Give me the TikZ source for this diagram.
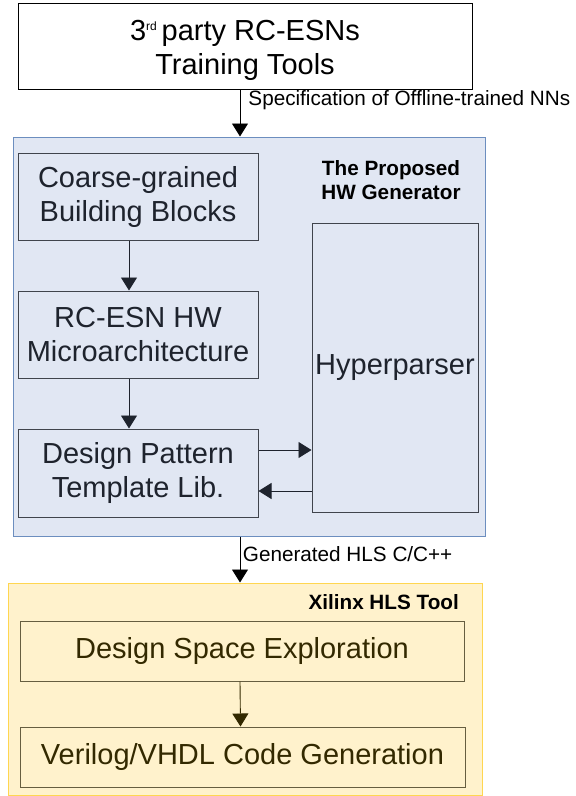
\documentclass[tikz,border=0pt]{standalone}
\usepackage{fontspec}
\setmainfont{Liberation Sans}
\usetikzlibrary{arrows.meta}
\definecolor{hwfill}{RGB}{225,231,243}
\definecolor{hwline}{RGB}{108,142,191}
\definecolor{hwdark}{RGB}{30,35,45}
\definecolor{hlsfill}{RGB}{255,242,204}
\definecolor{hlsline}{RGB}{255,214,80}
\definecolor{hlsdark}{RGB}{51,41,0}

\begin{document}
\begin{tikzpicture}[x=1pt,y=-1pt,
    every node/.style={inner sep=0pt,align=center},
    boxfont/.style={font=\fontsize{29}{34}\selectfont},
    tagfont/.style={font=\fontsize{20.7}{24}\selectfont},
    tagbold/.style={font=\fontsize{20.7}{24}\selectfont\bfseries},
    blk/.style={draw,line width=1pt,boxfont},
    hwblk/.style={blk,draw=hwdark!85,fill=hwfill,text=hwdark},
    hlsblk/.style={blk,draw=hlsdark!75,fill=hlsfill,text=hlsdark},
    arr/.style={-{Triangle[width=16pt,length=13pt]},line width=0.9pt}]
  \useasboundingbox (0,0) rectangle (576,796);
  % containers
  \node[draw=hwline,fill=hwfill,line width=1pt,
        minimum width=472pt,minimum height=399pt] (hwgen) at (249,336.5) {};
  \node[draw=hlsline,fill=hlsfill,line width=1pt,
        minimum width=474pt,minimum height=212pt] (hls) at (245,689) {};
  \node[tagbold] (hwtag) at (391,180) {The Proposed\\HW Generator};
  \node[tagbold,anchor=east] (hlstag) at (459,602) {Xilinx HLS Tool};
  % blocks
  \node[blk,minimum width=454pt,minimum height=86pt] (tools) at (245,46) {};
  \node[boxfont] (toolstxt) at (245,50)
    {3\raisebox{10pt}{\fontsize{12}{12}\selectfont rd}\,party RC-ESNs\\Training Tools};
  \node[hwblk,minimum width=240pt,minimum height=87pt] (coarse) at (138,196.5)
    {Coarse-grained\\Building Blocks};
  \node[hwblk,minimum width=240pt,minimum height=87pt] (micro) at (138,334.5)
    {RC-ESN HW\\Microarchitecture};
  \node[hwblk,minimum width=240pt,minimum height=88pt] (templ) at (138,473)
    {Design Pattern\\Template Lib.};
  \node[hwblk,minimum width=166pt,minimum height=289pt] (hyper) at (395,367.5)
    {Hyperparser};
  \node[hlsblk,minimum width=444pt,minimum height=60pt] (dse) at (242,651)
    {Design Space Exploration};
  \node[hlsblk,minimum width=445pt,minimum height=60pt] (vhdl) at (242.5,757)
    {Verilog/VHDL Code Generation};
  % connectors
  \draw[arr] ([xshift=-5pt]tools.south) -- node[tagfont,pos=0.23,right=8pt]
    {Specification of Offline-trained NNs} ([xshift=-5pt]tools.south |- hwgen.north);
  \draw[arr] ([xshift=-9pt]hwgen.south) -- node[tagfont,pos=0.38,right=2.5pt]
    {Generated HLS C/C++} ([xshift=-9pt]hwgen.south |- hls.north);
  \draw[arr,hwdark] ([xshift=-9pt]coarse.south) -- ([xshift=-9pt]micro.north);
  \draw[arr,hwdark] ([xshift=-9pt]micro.south) -- ([xshift=-9pt]templ.north);
  \draw[arr,hwdark] ([yshift=23pt]templ.east) -- ([yshift=23pt]templ.east -| hyper.west);
  \draw[arr,hwdark] ([yshift=-18pt]templ.east -| hyper.west) -- ([yshift=-18pt]templ.east);
  \draw[arr,hlsdark] ([xshift=-2pt]dse.south) -- ([xshift=-2pt]vhdl.north);
\end{tikzpicture}
\end{document}
